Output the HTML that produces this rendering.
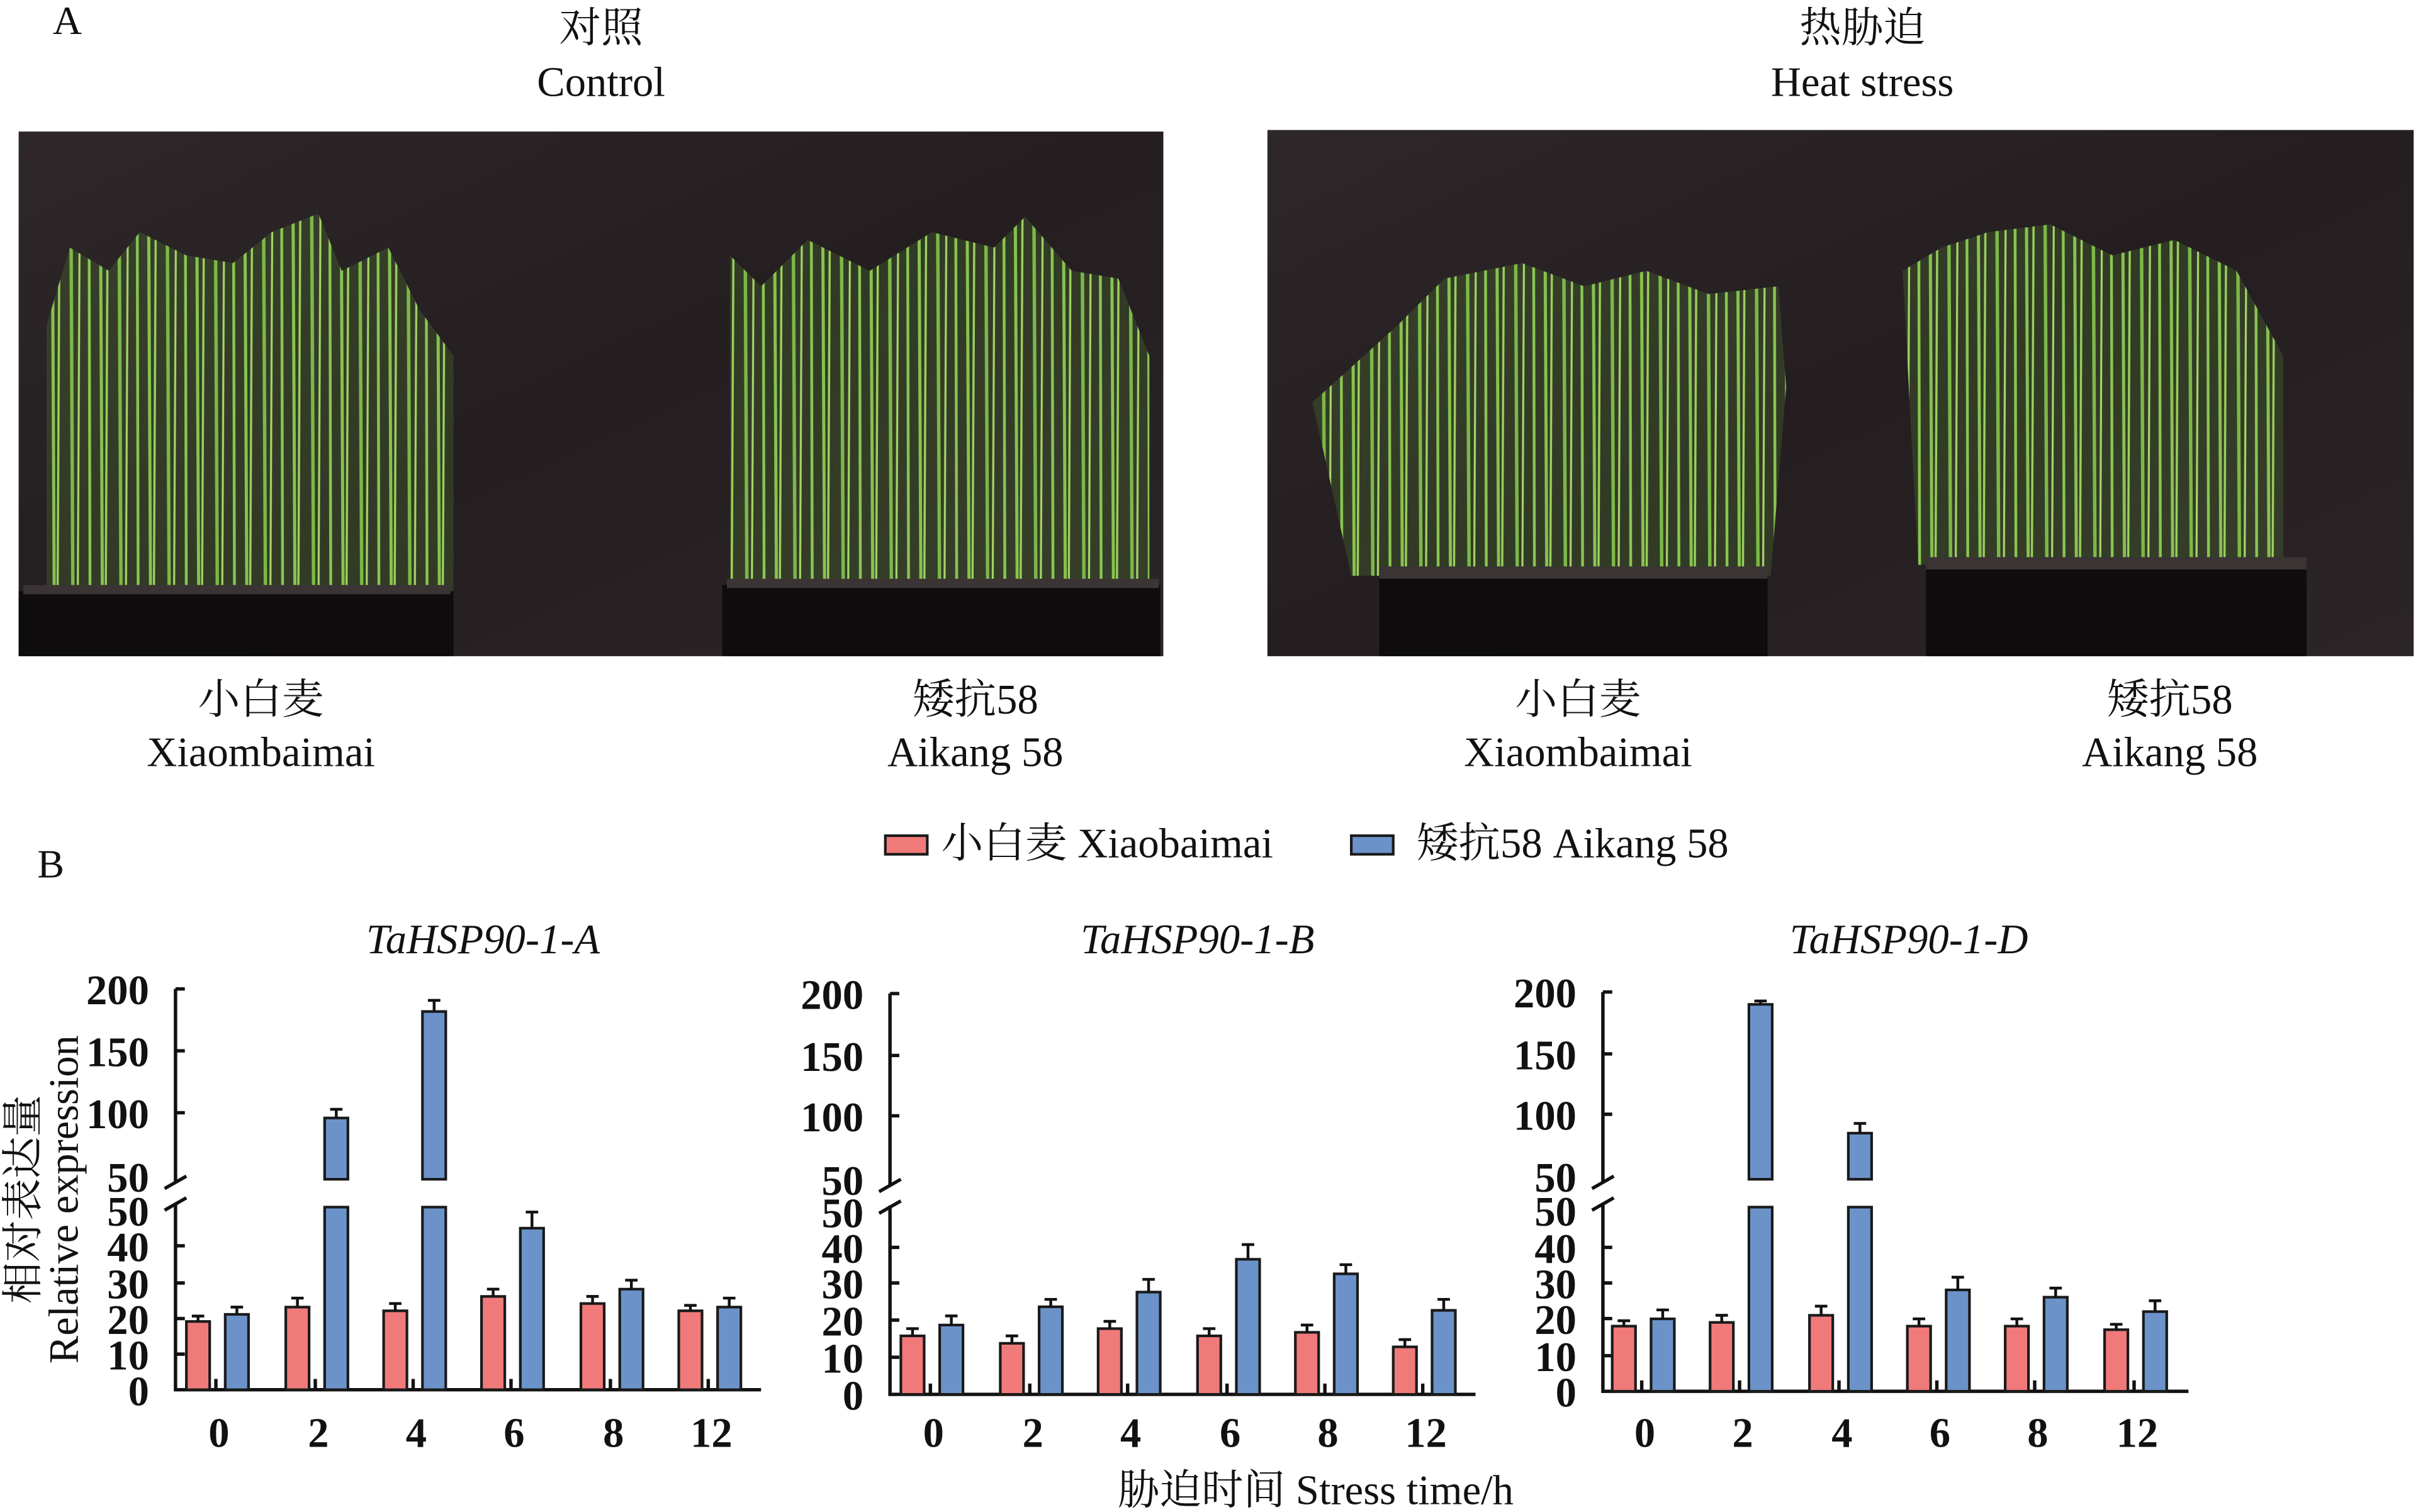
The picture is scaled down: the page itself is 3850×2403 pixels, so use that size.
<!DOCTYPE html>
<html><head><meta charset="utf-8"><style>
html,body{margin:0;padding:0;background:#fff}
svg{display:block}
text{font-family:"Liberation Serif","Noto Serif CJK SC",serif;fill:#111}
.t{font-size:27px;font-weight:bold;text-anchor:end}
.x{font-size:27px;font-weight:bold;text-anchor:middle}
.c{font-size:27px;text-anchor:middle}
.r{fill:#f07a7a;stroke:#1a1a1a;stroke-width:1.7}
.b{fill:#6b93c9;stroke:#1a1a1a;stroke-width:1.7}
.e{stroke:#111;stroke-width:1.8;fill:none}
.ax{stroke:#111;stroke-width:2.2;fill:none}
</style></head><body>
<svg width="3850" height="2403" viewBox="0 0 1560 977" preserveAspectRatio="none" xmlns="http://www.w3.org/2000/svg">
<defs>
<linearGradient id="bg" x1="0" y1="0" x2="1" y2="1"><stop offset="0" stop-color="#2e2729"/><stop offset="0.5" stop-color="#241e20"/><stop offset="1" stop-color="#2c2527"/></linearGradient>
<pattern id="gr" width="31" height="400" patternUnits="userSpaceOnUse">
<rect width="31" height="400" fill="#4f7a32" opacity="0.3"/>
<line x1="2" y1="0" x2="4" y2="400" stroke="#86c34f" stroke-width="2"/>
<line x1="8" y1="0" x2="6" y2="400" stroke="#9ccf5c" stroke-width="1.4"/>
<line x1="14" y1="0" x2="16" y2="400" stroke="#7cb848" stroke-width="2.2"/>
<line x1="21" y1="0" x2="19" y2="400" stroke="#a6d468" stroke-width="1.3"/>
<line x1="26" y1="0" x2="27" y2="400" stroke="#8ac552" stroke-width="1.8"/>
</pattern>
</defs>
<text x="34" y="22" style="font-size:26px">A</text>
<text x="387" y="27" class="c">对照</text>
<text x="387" y="62" class="c">Control</text>
<text x="1199" y="27" class="c">热胁迫</text>
<text x="1199" y="62" class="c">Heat stress</text>
<!-- photo 1 -->
<rect x="12" y="85" width="737" height="339" fill="url(#bg)"/>
<polygon points="30,210 45,160 70,175 90,150 120,165 150,170 175,150 205,138 220,175 250,160 270,200 292,230 292,385 30,385" fill="url(#gr)"/>
<polygon points="470,165 490,185 520,155 560,175 600,150 640,160 660,140 690,175 720,180 740,230 740,380 470,380" fill="url(#gr)"/>
<rect x="12" y="382" width="280" height="42" fill="#0e0c0d"/>
<rect x="15" y="378" width="275" height="6" fill="#3a3434"/>
<rect x="465" y="378" width="282" height="46" fill="#0e0c0d"/>
<rect x="468" y="374" width="278" height="6" fill="#3a3434"/>
<!-- photo 2 -->
<rect x="816" y="84" width="738" height="340" fill="url(#bg)"/>
<polygon points="845,260 900,210 930,180 980,170 1020,185 1060,175 1100,190 1145,185 1150,250 1140,372 870,372" fill="url(#gr)"/>
<polygon points="1225,175 1250,160 1280,150 1320,145 1360,165 1400,155 1440,175 1470,230 1470,365 1235,365" fill="url(#gr)"/>
<rect x="888" y="372" width="250" height="52" fill="#0e0c0d"/>
<rect x="888" y="366" width="250" height="8" fill="#3a3434"/>
<rect x="1240" y="366" width="245" height="58" fill="#0e0c0d"/>
<rect x="1240" y="360" width="245" height="8" fill="#3a3434"/>
<text x="168" y="461" class="c">小白麦</text>
<text x="168" y="495" class="c">Xiaombaimai</text>
<text x="628" y="461" class="c">矮抗58</text>
<text x="628" y="495" class="c">Aikang 58</text>
<text x="1016" y="461" class="c">小白麦</text>
<text x="1016" y="495" class="c">Xiaombaimai</text>
<text x="1397" y="461" class="c">矮抗58</text>
<text x="1397" y="495" class="c">Aikang 58</text>
<!-- legend -->
<rect x="570" y="540" width="27" height="12" class="r"/>
<text x="606" y="554" style="font-size:27px">小白麦  Xiaobaimai</text>
<rect x="870" y="540" width="27" height="12" class="b"/>
<text x="912" y="554" style="font-size:27px">矮抗58 Aikang 58</text>
<text x="24" y="567" style="font-size:26px">B</text>
<!-- y label -->
<text transform="translate(50,775) rotate(-90)" class="c" style="font-size:27px">Relative expression</text>
<text transform="translate(24,775) rotate(-90)" class="c" style="font-size:27px">相对表达量</text>
<text x="847" y="972" class="c">胁迫时间  Stress time/h</text>

<!-- Chart A -->
<text x="311" y="616" class="c" style="font-style:italic">TaHSP90-1-A</text>
<g>
<path class="ax" d="M113,639 V764 M113,778 V898 H490"/>
<path class="ax" d="M113,639H119 M113,679H119 M113,719H119 M113,805H119 M113,829H119 M113,852H119 M113,875H119"/>
<path class="ax" d="M106,768 L120,760 M106,782 L120,774"/>
<text x="96" y="649" class="t">200</text><text x="96" y="689" class="t">150</text><text x="96" y="729" class="t">100</text><text x="96" y="770" class="t">50</text>
<text x="96" y="792" class="t">50</text><text x="96" y="815" class="t">40</text><text x="96" y="839" class="t">30</text><text x="96" y="862" class="t">20</text><text x="96" y="885" class="t">10</text><text x="96" y="908" class="t">0</text>
<text x="141" y="935" class="x">0</text><text x="205" y="935" class="x">2</text><text x="268" y="935" class="x">4</text><text x="331" y="935" class="x">6</text><text x="395" y="935" class="x">8</text><text x="458" y="935" class="x">12</text>
<path class="ax" d="M139,898V891 M203,898V891 M266,898V891 M329,898V891 M393,898V891 M456,898V891"/>
<rect x="120" y="853.9" width="15" height="44.1" class="r"/><path class="e" d="M127.5,853.9V850.4M123.5,850.4H131.5"/>
<rect x="145" y="849.3" width="15" height="48.7" class="b"/><path class="e" d="M152.5,849.3V844.6M148.5,844.6H156.5"/>
<rect x="184" y="844.6" width="15" height="53.4" class="r"/><path class="e" d="M191.5,844.6V838.8M187.5,838.8H195.5"/>
<rect x="209" y="722.4" width="15" height="39.6" class="b"/><rect x="209" y="780" width="15" height="118" class="b"/><path class="e" d="M216.5,722.4V716.8M212.5,716.8H220.5"/>
<rect x="247" y="847" width="15" height="51" class="r"/><path class="e" d="M254.5,847V842.3M250.5,842.3H258.5"/>
<rect x="272" y="653.6" width="15" height="108.4" class="b"/><rect x="272" y="780" width="15" height="118" class="b"/><path class="e" d="M279.5,653.6V646.4M275.5,646.4H283.5"/>
<rect x="310" y="837.7" width="15" height="60.3" class="r"/><path class="e" d="M317.5,837.7V833M313.5,833H321.5"/>
<rect x="335" y="793.6" width="15" height="104.4" class="b"/><path class="e" d="M342.5,793.6V783.2M338.5,783.2H346.5"/>
<rect x="374" y="842.3" width="15" height="55.7" class="r"/><path class="e" d="M381.5,842.3V837.7M377.5,837.7H385.5"/>
<rect x="399" y="833" width="15" height="65" class="b"/><path class="e" d="M406.5,833V827.2M402.5,827.2H410.5"/>
<rect x="437" y="847" width="15" height="51" class="r"/><path class="e" d="M444.5,847V843.5M440.5,843.5H448.5"/>
<rect x="462" y="844.6" width="15" height="53.4" class="b"/><path class="e" d="M469.5,844.6V838.8M465.5,838.8H473.5"/>
</g>

<!-- Chart B -->
<text x="771" y="616" class="c" style="font-style:italic">TaHSP90-1-B</text>
<g>
<path class="ax" d="M573,642 V766 M573,779 V901 H950"/>
<path class="ax" d="M573,642H579 M573,682H579 M573,721H579 M573,806H579 M573,829H579 M573,853H579 M573,877H579"/>
<path class="ax" d="M566,770 L580,762 M566,784 L580,776"/>
<text x="556" y="652" class="t">200</text><text x="556" y="692" class="t">150</text><text x="556" y="731" class="t">100</text><text x="556" y="772" class="t">50</text>
<text x="556" y="793" class="t">50</text><text x="556" y="816" class="t">40</text><text x="556" y="839" class="t">30</text><text x="556" y="863" class="t">20</text><text x="556" y="887" class="t">10</text><text x="556" y="911" class="t">0</text>
<text x="601" y="935" class="x">0</text><text x="665" y="935" class="x">2</text><text x="728" y="935" class="x">4</text><text x="792" y="935" class="x">6</text><text x="855" y="935" class="x">8</text><text x="918" y="935" class="x">12</text>
<path class="ax" d="M599,901V894 M663,901V894 M726,901V894 M790,901V894 M853,901V894 M916,901V894"/>
<rect x="580" y="863.2" width="15" height="37.8" class="r"/><path class="e" d="M587.5,863.2V858.5M583.5,858.5H591.5"/>
<rect x="605" y="856.2" width="15" height="44.8" class="b"/><path class="e" d="M612.5,856.2V850.3M608.5,850.3H616.5"/>
<rect x="644" y="868" width="15" height="33" class="r"/><path class="e" d="M651.5,868V863.2M647.5,863.2H655.5"/>
<rect x="669" y="844.4" width="15" height="56.6" class="b"/><path class="e" d="M676.5,844.4V839.6M672.5,839.6H680.5"/>
<rect x="707" y="858.5" width="15" height="42.5" class="r"/><path class="e" d="M714.5,858.5V853.8M710.5,853.8H718.5"/>
<rect x="732" y="834.9" width="15" height="66.1" class="b"/><path class="e" d="M739.5,834.9V826.7M735.5,826.7H743.5"/>
<rect x="771" y="863.2" width="15" height="37.8" class="r"/><path class="e" d="M778.5,863.2V858.5M774.5,858.5H782.5"/>
<rect x="796" y="813.7" width="15" height="87.3" class="b"/><path class="e" d="M803.5,813.7V804.2M799.5,804.2H807.5"/>
<rect x="834" y="860.9" width="15" height="40.1" class="r"/><path class="e" d="M841.5,860.9V856.2M837.5,856.2H845.5"/>
<rect x="859" y="823.1" width="15" height="77.9" class="b"/><path class="e" d="M866.5,823.1V817.2M862.5,817.2H870.5"/>
<rect x="897" y="870.3" width="15" height="30.7" class="r"/><path class="e" d="M904.5,870.3V865.6M900.5,865.6H908.5"/>
<rect x="922" y="846.7" width="15" height="54.3" class="b"/><path class="e" d="M929.5,846.7V839.6M925.5,839.6H933.5"/>
</g>

<!-- Chart C -->
<text x="1229" y="616" class="c" style="font-style:italic">TaHSP90-1-D</text>
<g>
<path class="ax" d="M1032,641 V764 M1032,778 V899 H1409"/>
<path class="ax" d="M1032,641H1038 M1032,681H1038 M1032,720H1038 M1032,806H1038 M1032,829H1038 M1032,852H1038 M1032,876H1038"/>
<path class="ax" d="M1025,768 L1039,760 M1025,782 L1039,774"/>
<text x="1015" y="651" class="t">200</text><text x="1015" y="691" class="t">150</text><text x="1015" y="730" class="t">100</text><text x="1015" y="770" class="t">50</text>
<text x="1015" y="792" class="t">50</text><text x="1015" y="816" class="t">40</text><text x="1015" y="839" class="t">30</text><text x="1015" y="862" class="t">20</text><text x="1015" y="886" class="t">10</text><text x="1015" y="909" class="t">0</text>
<text x="1059" y="935" class="x">0</text><text x="1122" y="935" class="x">2</text><text x="1186" y="935" class="x">4</text><text x="1249" y="935" class="x">6</text><text x="1312" y="935" class="x">8</text><text x="1376" y="935" class="x">12</text>
<path class="ax" d="M1057,899V892 M1120,899V892 M1184,899V892 M1247,899V892 M1310,899V892 M1374,899V892"/>
<rect x="1038" y="856.9" width="15" height="42.1" class="r"/><path class="e" d="M1045.5,856.9V853.4M1041.5,853.4H1049.5"/>
<rect x="1063" y="852.2" width="15" height="46.8" class="b"/><path class="e" d="M1070.5,852.2V846.4M1066.5,846.4H1074.5"/>
<rect x="1101" y="854.5" width="15" height="44.5" class="r"/><path class="e" d="M1108.5,854.5V849.9M1104.5,849.9H1112.5"/>
<rect x="1126" y="649" width="15" height="113" class="b"/><rect x="1126" y="780" width="15" height="119" class="b"/><path class="e" d="M1133.5,649V646.8M1129.5,646.8H1137.5"/>
<rect x="1165" y="849.9" width="15" height="49.1" class="r"/><path class="e" d="M1172.5,849.9V844M1168.5,844H1176.5"/>
<rect x="1190" y="732.2" width="15" height="29.8" class="b"/><rect x="1190" y="780" width="15" height="119" class="b"/><path class="e" d="M1197.5,732.2V725.9M1193.5,725.9H1201.5"/>
<rect x="1228" y="856.9" width="15" height="42.1" class="r"/><path class="e" d="M1235.5,856.9V852.2M1231.5,852.2H1239.5"/>
<rect x="1253" y="833.5" width="15" height="65.5" class="b"/><path class="e" d="M1260.5,833.5V825.3M1256.5,825.3H1264.5"/>
<rect x="1291" y="856.9" width="15" height="42.1" class="r"/><path class="e" d="M1298.5,856.9V852.2M1294.5,852.2H1302.5"/>
<rect x="1316" y="838.2" width="15" height="60.8" class="b"/><path class="e" d="M1323.5,838.2V832.3M1319.5,832.3H1327.5"/>
<rect x="1355" y="859.2" width="15" height="39.8" class="r"/><path class="e" d="M1362.5,859.2V855.7M1358.5,855.7H1366.5"/>
<rect x="1380" y="847.5" width="15" height="51.5" class="b"/><path class="e" d="M1387.5,847.5V840.5M1383.5,840.5H1391.5"/>
</g>
</svg>
</body></html>
